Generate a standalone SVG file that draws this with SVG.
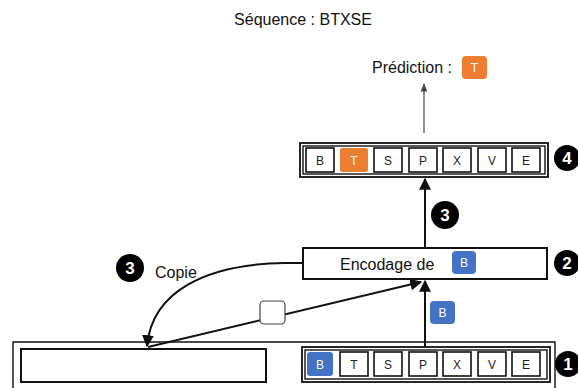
<svg xmlns="http://www.w3.org/2000/svg" width="578" height="388" viewBox="0 0 578 388">
<defs>
<style>
.txt{font-family:"Liberation Sans","Open Sans",sans-serif;fill:#111}
.cell{fill:#fff;stroke:#111;stroke-width:1.6}
.ltr{font-family:"Liberation Sans",sans-serif;font-size:12px;fill:#222;text-anchor:middle}
.box{fill:#fff;stroke:#111;stroke-width:2}
.num{fill:#000}
.numt{font-family:"Liberation Sans",sans-serif;font-size:17px;fill:#fff;text-anchor:middle;font-weight:bold}
.badge-b{fill:#4472C4}
.badge-o{fill:#ED7D31}
.bt{font-family:"Liberation Sans",sans-serif;font-size:12px;fill:#fff;text-anchor:middle}
.conn{fill:none;stroke:#111;stroke-width:2}
</style>
<marker id="ah" viewBox="0 0 10 10" refX="9" refY="5" markerWidth="6" markerHeight="6" orient="auto" markerUnits="strokeWidth">
<path d="M0,0 L10,5 L0,10 z" fill="#111"/>
</marker>
<marker id="ahg" viewBox="0 0 10 10" refX="9" refY="5" markerWidth="7" markerHeight="7" orient="auto" markerUnits="strokeWidth">
<path d="M0,1 L10,5 L0,9 z" fill="#444"/>
</marker>
</defs>
<rect width="578" height="388" fill="#fff"/>

<text id="title" class="txt" x="303" y="25" font-size="16" text-anchor="middle">Séquence : BTXSE</text>

<g id="prediction">
<text class="txt" x="372" y="73" font-size="16">Prédiction :</text>
<rect class="badge-o" x="462" y="56" width="25" height="23" rx="4"/>
<text class="bt" x="474.5" y="72">T</text>
</g>

<g id="connectors">
<line x1="424" y1="133" x2="424" y2="84" stroke="#444" stroke-width="1.2" marker-end="url(#ahg)"/>
<line class="conn" x1="425" y1="248" x2="425" y2="179" marker-end="url(#ah)"/>
<line class="conn" x1="425" y1="347" x2="425" y2="281" marker-end="url(#ah)"/>
<line class="conn" x1="148" y1="347" x2="421" y2="282" marker-end="url(#ah)"/>
<path class="conn" d="M303,263 L285,263 C205,264 152,292 147,346" marker-end="url(#ah)"/>
</g>

<g id="node-4">
<rect x="300" y="143" width="248" height="34" fill="#fff" stroke="#111" stroke-width="1.8"/>
<rect x="303" y="146" width="242" height="28" fill="none" stroke="#111" stroke-width="1.4"/>
<rect class="cell" x="306" y="148" width="28" height="24"/>
<text class="ltr" x="320" y="165">B</text>
<rect class="badge-o" x="340" y="148" width="28" height="24" rx="2"/>
<text class="bt" x="354" y="165">T</text>
<rect class="cell" x="374" y="148" width="28" height="24"/>
<text class="ltr" x="388" y="165">S</text>
<rect class="cell" x="409" y="148" width="28" height="24"/>
<text class="ltr" x="423" y="165">P</text>
<rect class="cell" x="443" y="148" width="28" height="24"/>
<text class="ltr" x="457" y="165">X</text>
<rect class="cell" x="478" y="148" width="28" height="24"/>
<text class="ltr" x="492" y="165">V</text>
<rect class="cell" x="512" y="148" width="28" height="24"/>
<text class="ltr" x="526" y="165">E</text>
<circle class="num" cx="567" cy="158" r="13"/>
<text class="numt" x="567" y="164">4</text>
</g>

<g id="step-3a">
<circle class="num" cx="445" cy="215" r="14"/>
<text class="numt" x="445" y="221">3</text>
</g>

<g id="node-2">
<rect class="box" x="303" y="248" width="244" height="31"/>
<text class="txt" x="340" y="270" font-size="16">Encodage de</text>
<rect class="badge-b" x="452" y="251" width="24" height="23" rx="4"/>
<text class="bt" x="464" y="267">B</text>
<circle class="num" cx="567" cy="263" r="13"/>
<text class="numt" x="567" y="269">2</text>
</g>

<g id="step-3b">
<circle class="num" cx="130" cy="268" r="14"/>
<text class="numt" x="130" y="274">3</text>
<text class="txt" x="155" y="278" font-size="16">Copie</text>
</g>

<g id="token-empty">
<rect x="260" y="301" width="25" height="23" rx="4" fill="#fff" stroke="#444" stroke-width="1.2"/>
</g>

<g id="token-b">
<rect class="badge-b" x="430" y="301" width="25" height="23" rx="4"/>
<text class="bt" x="442.5" y="317">B</text>
</g>

<g id="node-1">
<path d="M13,390 L13,342 L555,342 L555,390" fill="none" stroke="#111" stroke-width="1.4"/>
<rect class="box" x="21" y="349" width="245" height="33"/>
<rect x="302" y="347" width="248" height="35" fill="#fff" stroke="#111" stroke-width="1.8"/>
<rect x="305" y="350" width="242" height="29" fill="none" stroke="#111" stroke-width="1.4"/>
<rect class="badge-b" x="307" y="352" width="26" height="24" rx="3"/>
<text class="bt" x="320" y="369">B</text>
<rect class="cell" x="340" y="352" width="28" height="24"/>
<text class="ltr" x="354" y="369">T</text>
<rect class="cell" x="374" y="352" width="28" height="24"/>
<text class="ltr" x="388" y="369">S</text>
<rect class="cell" x="409" y="352" width="28" height="24"/>
<text class="ltr" x="423" y="369">P</text>
<rect class="cell" x="443" y="352" width="28" height="24"/>
<text class="ltr" x="457" y="369">X</text>
<rect class="cell" x="478" y="352" width="28" height="24"/>
<text class="ltr" x="492" y="369">V</text>
<rect class="cell" x="512" y="352" width="28" height="24"/>
<text class="ltr" x="526" y="369">E</text>
<circle class="num" cx="568" cy="364" r="13"/>
<text class="numt" x="568" y="370">1</text>
</g>
</svg>
